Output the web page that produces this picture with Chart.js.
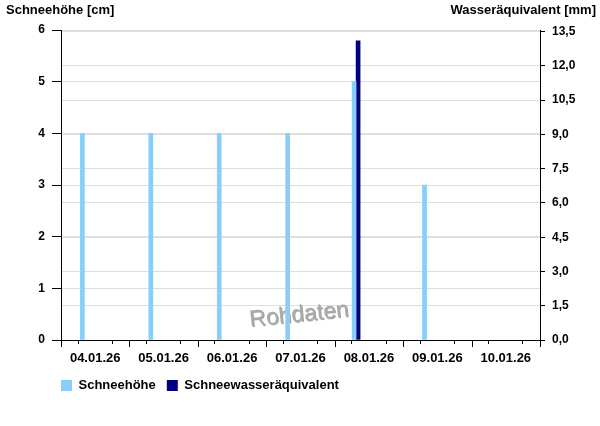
<!DOCTYPE html>
<html>
<head>
<meta charset="utf-8">
<script src="https://cdn.jsdelivr.net/npm/chart.js@4/dist/chart.umd.min.js"></script>
<style>
  html, body { margin: 0; padding: 0; background: #ffffff; }
  #wrap { width: 600px; height: 426px; }
</style>
</head>
<body>
<div id="wrap"><canvas id="c" width="600" height="426"></canvas></div>
<script>
// ---- data ----
const dayLabels = ['04.01.26', '05.01.26', '06.01.26', '07.01.26', '08.01.26', '09.01.26', '10.01.26'];
const measurementTimes = ['04.01.26 07:30', '05.01.26 07:30', '06.01.26 07:30', '07.01.26 07:30', '08.01.26 07:30', '09.01.26 07:30'];
const snowDepth = [4, 4, 4, 4, 5, 3];            // Schneehöhe [cm]
const waterEquivalent = [null, null, null, null, 13.1, null]; // Schneewasseräquivalent [mm]
const leftTicks = [0, 1, 2, 3, 4, 5, 6];
const rightTicks = [0, 1.5, 3, 4.5, 6, 7.5, 9, 10.5, 12, 13.5];
const leftTitle = 'Schneehöhe [cm]';
const rightTitle = 'Wasseräquivalent [mm]';
const seriesNames = ['Schneehöhe', 'Schneewasseräquivalent'];
const watermarkText = 'Rohdaten';

// hours since start of first day
function toHours(s) {
  const [d, t] = s.split(' ');
  const [hh, mm] = t.split(':').map(Number);
  return dayLabels.indexOf(d) * 24 + hh + mm / 60;
}
const xs = measurementTimes.map(toHours);
const totalHours = dayLabels.length * 24;

const FONT = "'Liberation Sans', Arial, Helvetica, sans-serif";
Chart.defaults.font.family = FONT;
Chart.defaults.color = '#000';

const overlay = {
  id: 'overlay',
  afterLayout(chart) {
    const lg = chart.legend;
    if (lg) {
      lg.left = 50; lg.right = 600; lg.width = 550;
      lg.top = 368; lg.bottom = 408; lg.height = 40;
    }
  },
  beforeDatasetsDraw(chart) {
    const ctx = chart.ctx;
    const a = chart.chartArea;
    const cx = a.left + (a.right - a.left) * 0.497;
    const cy = a.bottom - 25;
    ctx.save();
    ctx.translate(cx, cy);
    ctx.rotate(-6 * Math.PI / 180);
    ctx.font = "23px " + FONT;
    ctx.textAlign = 'center';
    ctx.textBaseline = 'middle';
    ctx.shadowColor = 'rgba(90,90,90,0.55)';
    ctx.shadowOffsetX = 1;
    ctx.shadowOffsetY = 1;
    ctx.shadowBlur = 0;
    ctx.fillStyle = '#ababab';
    ctx.fillText(watermarkText, 0, 0);
    ctx.restore();
  },
  afterDraw(chart) {
    const ctx = chart.ctx;
    const x = chart.scales.x;
    ctx.save();
    // long tick marks at midnight
    ctx.strokeStyle = '#000';
    ctx.lineWidth = 1;
    ctx.beginPath();
    for (let v = 0; v <= totalHours; v += 24) {
      const px = Math.round(x.getPixelForValue(v)) + 0.5;
      ctx.moveTo(px, x.top);
      ctx.lineTo(px, x.top + 7);
    }
    ctx.stroke();
    // axis titles
    ctx.font = "bold 13px " + FONT;
    ctx.fillStyle = '#000';
    ctx.textBaseline = 'middle';
    ctx.textAlign = 'left';
    ctx.fillText(leftTitle, 6, 10.5);
    ctx.textAlign = 'right';
    ctx.fillText(rightTitle, 596, 10.5);
    ctx.restore();
  }
};

new Chart(document.getElementById('c'), {
  type: 'bar',
  data: {
    datasets: [
      {
        label: seriesNames[0],
        data: xs.map((x, i) => ({ x: x, y: snowDepth[i] })),
        backgroundColor: '#87cefa',
        borderWidth: 0,
        yAxisID: 'y',
        barThickness: 4,
        skipNull: true
      },
      {
        label: seriesNames[1],
        data: xs.map((x, i) => ({ x: x, y: waterEquivalent[i] })),
        backgroundColor: '#000080',
        borderWidth: 0,
        yAxisID: 'y2',
        barThickness: 4,
        skipNull: true
      }
    ]
  },
  options: {
    responsive: false,
    animation: false,
    events: [],
    layout: { padding: { top: 30, left: 0, right: 0, bottom: 36 } },
    plugins: {
      tooltip: { enabled: false },
      legend: {
        position: 'bottom',
        align: 'start',
        maxHeight: 20,
        labels: {
          boxWidth: 11,
          boxHeight: 11,
          padding: 11,
          color: '#000',
          font: { size: 13, weight: 'bold' }
        }
      }
    },
    scales: {
      x: {
        type: 'linear',
        position: 'bottom',
        min: 0,
        max: totalHours,
        offset: false,
        afterFit(s) { s.height = 30; },
        border: { display: true, color: '#000', width: 1 },
        grid: { drawOnChartArea: false, drawTicks: true, tickLength: 4, tickColor: '#000' },
        ticks: {
          stepSize: 12,
          autoSkip: false,
          maxRotation: 0,
          padding: 7,
          color: '#000',
          font: { size: 13, weight: 'bold' },
          callback(v) {
            return (v % 24 === 12) ? dayLabels[(v - 12) / 24] : '';
          }
        }
      },
      y: {
        position: 'left',
        min: 0,
        max: 6,
        afterFit(s) { s.width = 61; },
        afterBuildTicks(s) { s.ticks = leftTicks.map(v => ({ value: v })); },
        border: { display: true, color: '#000', width: 1 },
        grid: { color: '#dedede', tickColor: '#000', tickLength: 9 },
        ticks: {
          padding: 7,
          color: '#000',
          font: { size: 12, weight: 'bold' },
          callback(v) { return String(v); }
        }
      },
      y2: {
        position: 'right',
        min: 0,
        max: 13.57,
        afterFit(s) { s.width = 60; },
        afterBuildTicks(s) { s.ticks = rightTicks.map(v => ({ value: v })); },
        border: { display: true, color: '#000', width: 1 },
        grid: { color: '#dedede', tickColor: '#000', tickLength: 5, drawOnChartArea: true },
        ticks: {
          padding: 7,
          color: '#000',
          font: { size: 12, weight: 'bold' },
          callback(v) { return v.toFixed(1).replace('.', ','); }
        }
      }
    }
  },
  plugins: [overlay]
});
</script>
</body>
</html>
